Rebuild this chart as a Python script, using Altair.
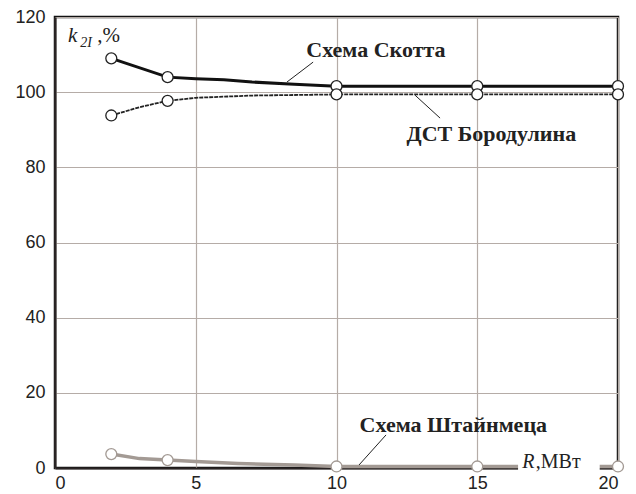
import altair as alt
import pandas as pd

# Marker points
x_pts = [2, 4, 10, 15, 20]
scott_pts = [109.0, 104.0, 101.6, 101.6, 101.6]
borodulin_pts = [93.8, 97.7, 99.4, 99.4, 99.4]
steinmetz_pts = [3.7, 2.1, 0.4, 0.4, 0.4]

# Curves
scott_x = [2, 4, 5, 6, 7, 8.5, 10, 15, 20]
scott_y = [109.0, 104.0, 103.6, 103.3, 102.7, 102.1, 101.6, 101.6, 101.6]
boro_x = [2, 3, 4, 5, 7, 10, 15, 20]
boro_y = [93.8, 96.0, 97.7, 98.5, 99.1, 99.4, 99.4, 99.4]
stein_x = [2, 3, 4, 5, 6.5, 8.5, 10, 15, 20]
stein_y = [3.7, 2.5, 2.1, 1.7, 1.2, 0.8, 0.4, 0.4, 0.4]

x_ticks = [0, 5, 10, 15, 20]
y_ticks = [0, 20, 40, 60, 80, 100, 120]

labels = ["Схема Скотта", "ДСТ Бородулина", "Схема Штайнмеца"]
label_x = [11.4, 15.5, 14.15]
label_y = [111.2, 88.9, 11.4]
leader_x = [8.24, 12.79, 11.76]
leader_y = [102.7, 99.2, 8.8]
leader_x2 = [9.17, 13.68, 10.8]
leader_y2 = [108.0, 93.1, 0.8]

W, H = 563, 451
xs = alt.Scale(domain=[0, 20], nice=False)
ys = alt.Scale(domain=[0, 120], nice=False)

def line_df(xv, yv):
    return pd.DataFrame({"x": xv, "y": yv})

X = alt.X("x:Q", scale=xs, axis=alt.Axis(values=x_ticks, title=None))
Y = alt.Y("y:Q", scale=ys, axis=alt.Axis(values=y_ticks, title=None))

base_axes = alt.Chart(line_df(scott_x, scott_y)).mark_line(
    color="#111111", strokeWidth=3).encode(x=X, y=Y)

boro_line = alt.Chart(line_df(boro_x, boro_y)).mark_line(
    color="#222222", strokeWidth=1.8, strokeDash=[4, 1]).encode(x="x:Q", y="y:Q")

stein_line = alt.Chart(line_df(stein_x, stein_y)).mark_line(
    color="#a39a94", strokeWidth=3.5).encode(x="x:Q", y="y:Q")

def pts(yv, stroke):
    return alt.Chart(line_df(x_pts, yv)).mark_point(
        shape="circle", filled=True, fill="white", stroke=stroke,
        strokeWidth=1.3, size=120, opacity=1).encode(x="x:Q", y="y:Q")

leaders = alt.Chart(pd.DataFrame({"x": leader_x, "y": leader_y,
                                  "x2": leader_x2, "y2": leader_y2})).mark_rule(
    color="#222222", strokeWidth=1).encode(x="x:Q", y="y:Q", x2="x2:Q", y2="y2:Q")

label_txt = alt.Chart(pd.DataFrame({"x": label_x, "y": label_y, "t": labels})).mark_text(
    font="Liberation Serif", fontWeight="bold", fontSize=22, color="#222222",
    align="center", baseline="middle").encode(x="x:Q", y="y:Q", text="t:N")

# white box behind the x-axis title
box = alt.Chart(pd.DataFrame({"x": [16.45], "x2": [19.35], "y": [-1.0], "y2": [4.0]})).mark_rect(
    color="white").encode(x="x:Q", x2="x2:Q", y="y:Q", y2="y2:Q")

r_it = alt.Chart(pd.DataFrame({"x": [16.6], "y": [1.6], "t": ["R"]})).mark_text(
    font="Liberation Serif", fontStyle="italic", fontSize=20, color="#222222",
    align="left", baseline="middle").encode(x="x:Q", y="y:Q", text="t:N")
r_rest = alt.Chart(pd.DataFrame({"x": [17.08], "y": [1.6], "t": [",МВт"]})).mark_text(
    font="Liberation Serif", fontSize=20, color="#222222",
    align="left", baseline="middle").encode(x="x:Q", y="y:Q", text="t:N")

k_it = alt.Chart(pd.DataFrame({"x": [0.46], "y": [113.4], "t": ["k"]})).mark_text(
    font="Liberation Serif", fontStyle="italic", fontSize=21, color="#222222",
    align="left", baseline="alphabetic").encode(x="x:Q", y="y:Q", text="t:N")
k_sub = alt.Chart(pd.DataFrame({"x": [0.9], "y": [112.0], "t": ["2I"]})).mark_text(
    font="Liberation Serif", fontStyle="italic", fontSize=14, color="#222222",
    align="left", baseline="alphabetic").encode(x="x:Q", y="y:Q", text="t:N")
k_rest = alt.Chart(pd.DataFrame({"x": [1.5], "y": [113.4], "t": [",%"]})).mark_text(
    font="Liberation Serif", fontSize=21, color="#222222",
    align="left", baseline="alphabetic").encode(x="x:Q", y="y:Q", text="t:N")

chart = alt.layer(
    base_axes, boro_line, stein_line,
    pts(scott_pts, "#222222"), pts(borodulin_pts, "#222222"), pts(steinmetz_pts, "#a39a94"),
    leaders, label_txt, box, r_it, r_rest, k_it, k_sub, k_rest,
).properties(
    width=W, height=H,
    padding={"left": 55, "top": 17, "right": 18, "bottom": 26},
    autosize=alt.AutoSizeParams(type="none"),
    background="white",
).configure_view(
    stroke="#111111", strokeWidth=2.5
).configure_axis(
    gridColor="#b5aca7", gridWidth=1.2, gridOpacity=1,
    domainColor="#2a2424", domainWidth=2,
    tickSize=0, labelFont="Liberation Sans", labelFontSize=18,
    labelColor="#222222",
).configure_axisX(labelPadding=6).configure_axisY(labelPadding=10)

chart.save("out.html", embed_options={"renderer": "svg", "actions": False})
